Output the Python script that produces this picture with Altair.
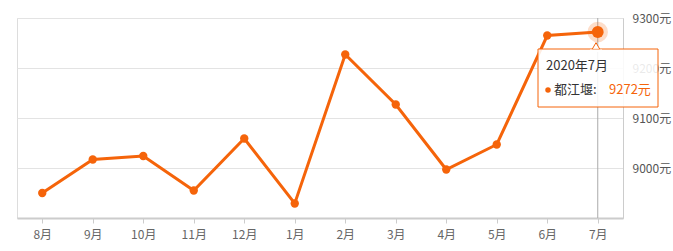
import altair as alt
import pandas as pd

months = ["8月", "9月", "10月", "11月", "12月", "1月", "2月", "3月", "4月", "5月", "6月", "7月"]
prices = [8950, 9017, 9024, 8955, 9059, 8929, 9227, 9127, 8997, 9047, 9265, 9272]
y_ticks = [9000, 9100, 9200, 9300]
tip_title = "2020年7月"
tip_name = "都江堰:"
tip_value = "9272元"

FONT = "Noto Sans CJK SC"
ORANGE = "#f5640a"

df = pd.DataFrame({"month": months, "price": prices})
last = df.tail(1)

x_enc = alt.X("month:N", sort=months,
              scale=alt.Scale(type="point", padding=0.5),
              axis=alt.Axis(title=None, labelAngle=0, labelAlign="center", labelBaseline="top",
                            labelColor="#666", labelFontSize=12,
                            labelFont=FONT, tickColor="#ccc", tickSize=5, labelPadding=6,
                            domainColor="#ccc", domainWidth=2, grid=False))
y_enc = alt.Y("price:Q",
              scale=alt.Scale(domain=[8900, 9300], nice=False, zero=False),
              axis=alt.Axis(title=None, orient="right", values=y_ticks,
                            labelExpr="datum.value + '元'", labelColor="#555",
                            labelFontSize=12, labelFont=FONT, ticks=False, labelPadding=9,
                            domainColor="#ccc", gridColor="#e3e3e3", grid=True))

base = alt.Chart(df)

line = base.mark_line(color=ORANGE, strokeWidth=3).encode(x=x_enc, y=y_enc)
pts = base.mark_circle(color=ORANGE, size=70, opacity=1).encode(x=x_enc, y=y_enc)

vrule = alt.Chart(last).mark_rule(color="#aaa", strokeWidth=1).encode(
    x=alt.X("month:N", sort=months, scale=alt.Scale(type="point", padding=0.5)),
    y=alt.value(0), y2=alt.value(200))
halo = alt.Chart(last).mark_circle(color=ORANGE, size=420, opacity=0.22).encode(
    x=alt.X("month:N", sort=months), y=alt.Y("price:Q"))
big = alt.Chart(last).mark_circle(color=ORANGE, size=140, opacity=1).encode(
    x=alt.X("month:N", sort=months), y=alt.Y("price:Q"))

tipdf = pd.DataFrame({"a": [0]})
box = alt.Chart(tipdf).mark_rect(fill="white", fillOpacity=0.88, stroke=ORANGE,
                                 strokeWidth=1).encode(
    x=alt.value(521), x2=alt.value(641), y=alt.value(31), y2=alt.value(89))
arrow = alt.Chart(tipdf).mark_point(shape="triangle-up", size=60, filled=True, fill="white",
                                    stroke=ORANGE, strokeWidth=1, opacity=1).encode(
    x=alt.value(579), y=alt.value(28))
arrow_cover = alt.Chart(tipdf).mark_rect(fill="white").encode(
    x=alt.value(573), x2=alt.value(585), y=alt.value(31.5), y2=alt.value(34))
t1 = alt.Chart(tipdf).mark_text(text=tip_title, align="left", baseline="middle",
                                fontSize=13, font=FONT, color="#333").encode(
    x=alt.value(529), y=alt.value(48))
dot = alt.Chart(tipdf).mark_circle(color=ORANGE, size=30, opacity=1).encode(
    x=alt.value(531), y=alt.value(72))
t2 = alt.Chart(tipdf).mark_text(text=tip_name, align="left", baseline="middle",
                                fontSize=13, font=FONT, color="#333").encode(
    x=alt.value(537), y=alt.value(72))
t3 = alt.Chart(tipdf).mark_text(text=tip_value, align="left", baseline="middle",
                                fontSize=13, font=FONT, color=ORANGE).encode(
    x=alt.value(592), y=alt.value(72))

chart = alt.layer(vrule, line, pts, halo, big, box, arrow, arrow_cover, t1, dot, t2, t3).properties(
    width=606, height=200,
    padding={"left": 17, "top": 18, "right": 50, "bottom": 33},
    autosize=alt.AutoSizeParams(type="none"),
).configure_view(stroke=None).configure(background="white")

chart.save("out.html", embed_options={"renderer": "svg", "actions": False})
